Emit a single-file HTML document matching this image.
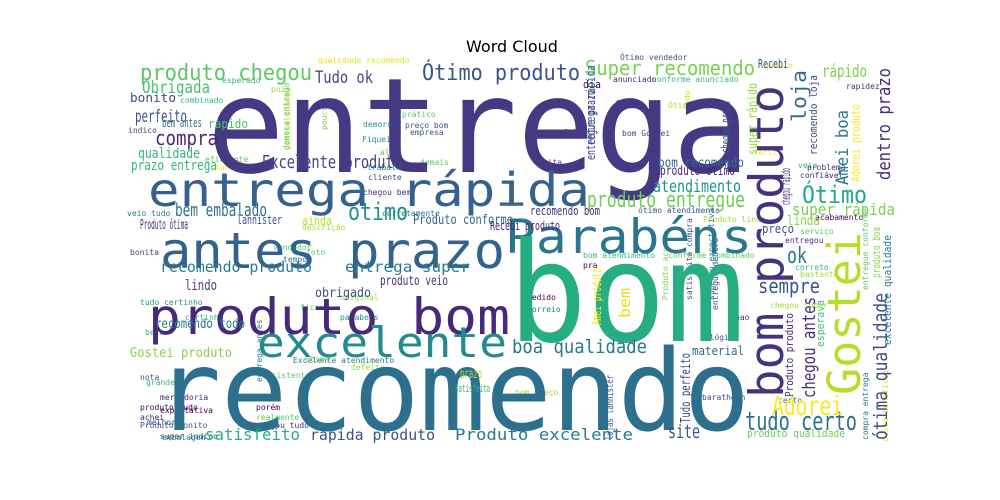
<!DOCTYPE html>
<html><head><meta charset="utf-8"><style>
html,body{margin:0;padding:0;background:#fff;width:1000px;height:500px;overflow:hidden}
svg text{font-family:"DejaVu Sans Mono","Liberation Mono",monospace}
</style></head><body>
<svg id="cloud" width="1000" height="500" viewBox="0 0 1000 500" xmlns="http://www.w3.org/2000/svg">
<rect width="1000" height="500" fill="#fff"/>
<text x="512" y="52" text-anchor="middle" font-size="16" style="font-family:'DejaVu Sans','Liberation Sans',sans-serif" fill="#000">Word Cloud</text>
<g id="words"></g>
</svg>
<script>
// word, x, baseline y, font size, color, rotated(1=vertical up), rendered length
const words = ["entrega","entrega rápida","antes prazo","Parabéns","produto bom","excelente","bom","recomendo","bom produto","Gostei",
"produto chegou","Ótimo produto","Super recomendo","Obrigada","Tudo ok","bonito","perfeito","compra","bem antes","qualidade","Excelente produto","prazo entrega","bem embalado","otimo","lannister","Produto ótima","ainda","Produto conforme","recomendo produto","entrega super","lindo","obrigado","Gostei produto","boa qualidade","prazo","satisfeita","satisfeito","rápida produto","Produto excelente","site","tudo certo","Adorei","sempre","ok","produto entregue","atendimento","bom recomendo","produto ótimo","Recebi","rápido","loja","Amei boa","dentro prazo","Ótimo","super rápida","ótima qualidade","chegou antes","bem","material","Tudo perfeito","produto qualidade","dia","produto veio","recomendo todo","entrega rápida","super rápido","chegou prazo","entregue prazo","Adorei produto","recomendo loja","chegou rápido","excelente qualidade","produto boa","esperava","Amei produto","lojas lannister","Recebi produto","recomendo bom","rapido","Produto produto","linda","preço"];
const xs = [207,148,160,505,148,257,508,155,783,860,140,422,585,142,315,130,135,155,162,138,262,131,175,348,237,140,302,413,160,345,185,315,130,512,460,455,205,310,455,668,745,772,758,787,587,653,658,660,758,822,806,848,890,802,792,887,815,630,692,690,747,583,380,155,595,757,730,595,860,817,790,891,880,824,601,613,490,530,208,793,787,762];
const ys = [172,206,268,253,334,357,341,430,398,395,80,80,75,93,83,102,122,145,127,158,168,170,216,220,224,229,225,224,272,272,290,297,357,353,378,392,440,440,440,438,430,415,293,263,207,192,167,175,68,77,122,185,180,203,215,440,398,318,355,423,437,88,285,328,145,155,153,160,182,155,205,345,278,347,325,440,230,215,128,397,225,233];
const sizes = [132,46,50,47,50,42,138,112,47,45,22,22,20,17,17,12,17,20,12,14,18,14,18,24,12,13,12,13,15,15,14,13,13,19,13,11,16,15,16,19,26,27,20,22,22,17,13,13,12,17,20,17,18,24,16,19,18,15,12,13,11,11,13,13,12,13,12,12,12,11,12,11,11,11,12,10,12,12,12,11,13,12];
const lengths = [543,442,345,247,362,250,237,595,313,163,172,158,170,68,58,46,52,63,40,62,140,86,92,60,45,48,30,100,152,125,32,56,102,135,22,35,95,125,178,32,112,71,62,20,158,88,86,75,30,45,52,75,112,65,103,147,101,30,52,70,98,18,68,90,80,72,52,70,78,80,37,110,51,47,57,65,70,70,40,84,33,32];
const colors = ["#443a83","#34618d","#33638d","#2b758e","#46297a","#238a8d","#26ad81","#2d708e","#46337e","#b5de2b",
"#5ec962","#3b528b","#7ad151","#4ac16d","#414487","#3e4989","#3b528b","#482878","#2c728e","#35b779","#414487","#35b779","#2c728e","#21918c","#3b528b","#472d7b","#b5de2b","#31688e","#2a788e","#287c8e","#3e4a89","#3b528b","#84d44b","#2a788e","#a0da39","#35b779","#29af7f","#3b528b","#2a788e","#3b528b","#2c728e","#fde725","#39568c","#2a788e","#6ece58","#21918c","#31688e","#482475","#3b528b","#7ad151","#2d708e","#2a788e","#472c7a","#22a884","#7ad151","#3e4a89","#472d7b","#dde318","#31688e","#414487","#6ece58","#440154","#46337e","#2a788e","#2e6f8e","#95d840","#3b528b","#46337e","#fde725","#3e4989","#46327e","#2a788e","#84d44b","#4ac16d","#fde725","#3b528b","#482878","#46337e","#4ac16d","#482878","#84d44b","#3b528b"];
const rot = [0,0,0,0,0,0,0,0,1,1,0,0,0,0,0,0,0,0,0,0,0,0,0,0,0,0,0,0,0,0,0,0,0,0,0,0,0,0,0,0,0,0,0,0,0,0,0,0,0,0,1,1,1,0,0,1,1,1,0,1,0,0,0,0,1,1,1,1,1,1,1,1,1,1,1,1,0,0,0,1,0,0];

// small filler words
const smallWords = ["qualidade recomendo","esperado","pois","combinado","indico","eficiente","tudo correto","pontualidade","demora entrega","pouco","prático","demorou","preço bom","empresa","Fiquei","além","demais","trabalho","cliente","chegou bem","corretamente","veio tudo","descrição","Ótimo vendedor","anunciado","conforme anunciado","feliz","Ótima loja","bom Gostei","quanto","rapidez","fácil","veio","problema","confiável","acabamento","serviço","entregou","Produto lindo","ótimo atendimento","bom atendimento","conforme combinado","pra","correto","bastante","Produto acordo","satisfeita compra","superou expectativa","chegou super","entregue dentro","nao","relógio","certo","baratheon","grande","mercadoria","expectativa","achei","melhor","super indico","embalagem","Produto bonito","produto Tudo","porém","realmente","chegou tudo","entrega antes","resistente","defeito","Excelente atendimento","otima","ficou","tempo","foto","vendedor","pedido","correio","parabens","original","certinho","tudo certinho","bonita","bela","bom preço","nota","todo","perfeita","muita","entregue conforme","compra entrega","custo benefício"];
const sxs = [318,222,271,180,128,205,215,290,289,327,402,363,405,410,362,380,420,367,368,363,382,127,302,620,613,652,615,668,622,764,846,753,798,807,800,815,800,785,703,638,583,668,583,795,800,668,692,714,770,718,735,700,778,702,146,160,160,140,147,160,162,140,140,256,256,256,262,262,351,293,305,300,283,306,273,527,527,340,340,185,140,130,145,515,140,690,548,538,868,868,888];
const sys = [63,83,92,103,133,162,170,150,150,130,117,127,128,135,142,155,165,170,180,195,216,216,230,60,82,82,106,108,136,68,89,155,168,170,178,220,234,243,222,213,258,258,268,270,277,300,300,300,308,310,320,340,403,400,385,400,413,420,425,439,440,428,410,410,420,428,382,378,370,363,362,310,262,255,250,300,312,320,300,320,305,255,335,395,380,110,135,165,290,440,442];
const ssizes = [8,8,8,8,8,8,8,8,8,8,8,8,8,8,8,8,8,8,8,8,8,8,8,8,8,8,8,8,8,8,8,8,8,8,8,8,8,8,8,8,8,8,8,8,8,8,8,8,8,8,8,8,8,8,8,8,8,8,8,8,8,8,8,8,8,8,8,8,8,8,8,8,8,8,8,8,8,8,8,8,8,8,8,8,8,8,8,8,8,8,8];
const scolors = ["#dde318","#35b779","#a0da39","#35b779","#3e4989","#5ec962","#fde725","#a0da39","#7ad151","#7ad151","#5ec962","#21918c","#3b528b","#3b528b","#21918c","#5ec962","#5ec962","#2a788e","#3e4989","#472d7b","#2a788e","#2a788e","#a0da39","#3b528b","#482878","#35b779","#472d7b","#a0da39","#3e4989","#dde318","#472d7b","#fde725","#35b779","#472d7b","#482878","#440154","#5ec962","#46337e","#a0da39","#3b528b","#35b779","#5ec962","#440154","#35b779","#a0da39","#7ad151","#3b528b","#2a788e","#a0da39","#3e4989","#472d7b","#3b528b","#2a788e","#3e4989","#35b779","#482878","#440154","#482878","#3e4989","#3e4989","#2a788e","#3b528b","#440154","#440154","#5ec962","#482878","#2a788e","#5ec962","#a0da39","#2a788e","#7ad151","#5ec962","#2a788e","#5ec962","#5ec962","#440154","#2a788e","#21918c","#a0da39","#35b779","#21918c","#3e4989","#35b779","#a0da39","#3b528b","#dde318","#472d7b","#3e4989","#5ec962","#2a788e","#dde318"];
const srot = [0,0,0,0,0,0,0,1,1,1,0,0,0,0,0,0,0,0,0,0,0,0,0,0,0,0,0,0,0,0,0,0,0,0,0,0,0,0,0,0,0,0,0,0,0,1,1,1,0,1,0,0,0,0,0,0,0,0,0,0,0,0,0,0,0,0,1,0,0,0,0,0,0,0,0,0,0,0,0,0,0,0,0,0,0,1,0,0,1,1,1];

const ns = "http://www.w3.org/2000/svg";
const g = document.getElementById('words');
function addWord(t, x, y, s, c, r, len) {
  const el = document.createElementNS(ns, 'text');
  
  
  el.setAttribute('x', x);
  el.setAttribute('y', y);
  el.setAttribute('font-size', s);
  el.setAttribute('fill', c);
  if (len) { el.setAttribute('textLength', len); el.setAttribute('lengthAdjust', 'spacingAndGlyphs'); }
  if (r) el.setAttribute('transform', 'rotate(-90 ' + x + ' ' + y + ')');
  el.textContent = t.trim();
  g.appendChild(el);
}
for (let i = 0; i < smallWords.length; i++) addWord(smallWords[i], sxs[i], sys[i], ssizes[i], scolors[i], srot[i], 0);
for (let i = 0; i < words.length; i++) addWord(words[i], xs[i], ys[i], sizes[i], colors[i], rot[i], lengths[i]);
</script>
</body></html>
